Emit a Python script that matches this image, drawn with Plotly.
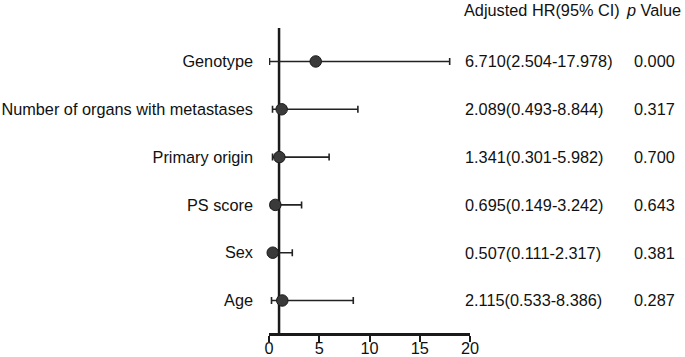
import plotly.graph_objects as go

categories = ["Genotype", "Number of organs with metastases", "Primary origin",
              "PS score", "Sex", "Age"]
hr_point = [4.65, 1.26, 1.03, 0.63, 0.37, 1.32]
ci_low = [0.05, 0.35, 0.35, 0.17, 0.15, 0.25]
ci_high = [17.978, 8.844, 5.982, 3.242, 2.317, 8.386]
hr_text = ["6.710(2.504-17.978)", "2.089(0.493-8.844)", "1.341(0.301-5.982)",
           "0.695(0.149-3.242)", "0.507(0.111-2.317)", "2.115(0.533-8.386)"]
p_text = ["0.000", "0.317", "0.700", "0.643", "0.381", "0.287"]
x_ticks = [0, 5, 10, 15, 20]

FONT = "Liberation Sans, Arial, sans-serif"
TXT = "#111111"
FS = 16.3

fig = go.Figure()
fig.add_trace(go.Scatter(
    x=hr_point, y=categories, mode="markers",
    marker=dict(size=11.5, color="#3a3a3a", line=dict(color="#1a1a1a", width=1)),
    error_x=dict(type="data", symmetric=False,
                 array=[h - p for h, p in zip(ci_high, hr_point)],
                 arrayminus=[p - l for p, l in zip(hr_point, ci_low)],
                 color="#222222", thickness=1.6, width=3.5),
    cliponaxis=False, showlegend=False,
))

# reference line at HR = 1
fig.add_shape(type="line", xref="x", yref="paper", x0=1, x1=1, y0=0, y1=1,
              line=dict(color="#1a1a1a", width=2.5), layer="below")

for cat, t, p in zip(categories, hr_text, p_text):
    fig.add_annotation(x=0.963, y=cat, xref="paper", yref="y", text=t, showarrow=False,
                       xanchor="left", yanchor="middle",
                       font=dict(size=FS, color=TXT, family=FONT))
    fig.add_annotation(x=1.920, y=cat, xref="paper", yref="y", text=p, showarrow=False,
                       xanchor="center", yanchor="middle",
                       font=dict(size=FS, color=TXT, family=FONT))

fig.add_annotation(x=0.958, y=1, xref="paper", yref="paper", yshift=18,
                   text="Adjusted HR(95% CI)", showarrow=False,
                   xanchor="left", yanchor="middle",
                   font=dict(size=FS, color=TXT, family=FONT))
fig.add_annotation(x=1.766, y=1, xref="paper", yref="paper", yshift=18,
                   text="<i>p</i> Value", showarrow=False,
                   xanchor="left", yanchor="middle",
                   font=dict(size=FS, color=TXT, family=FONT))

fig.update_layout(
    width=685, height=357,
    margin=dict(l=269, r=215, t=28, b=24, pad=0),
    paper_bgcolor="white", plot_bgcolor="white",
    font=dict(family=FONT, size=FS, color=TXT),
    xaxis=dict(range=[0, 20], tickvals=x_ticks, showgrid=False, zeroline=False,
               showline=True, linecolor="#1a1a1a", linewidth=2.5,
               ticks="outside", ticklen=6, tickwidth=2, tickcolor="#1a1a1a",
               ticklabelstandoff=-7, automargin=False,
               tickfont=dict(size=FS, family=FONT, color=TXT)),
    yaxis=dict(categoryorder="array", categoryarray=categories,
               range=[5.68, -0.7], showgrid=False, zeroline=False, showline=False,
               ticks="", ticklabelstandoff=15, automargin=False,
               tickfont=dict(size=FS, family=FONT, color=TXT)),
)

fig.write_html("out.html", config={"displayModeBar": False},
               post_script="document.body.style.margin='0';")
